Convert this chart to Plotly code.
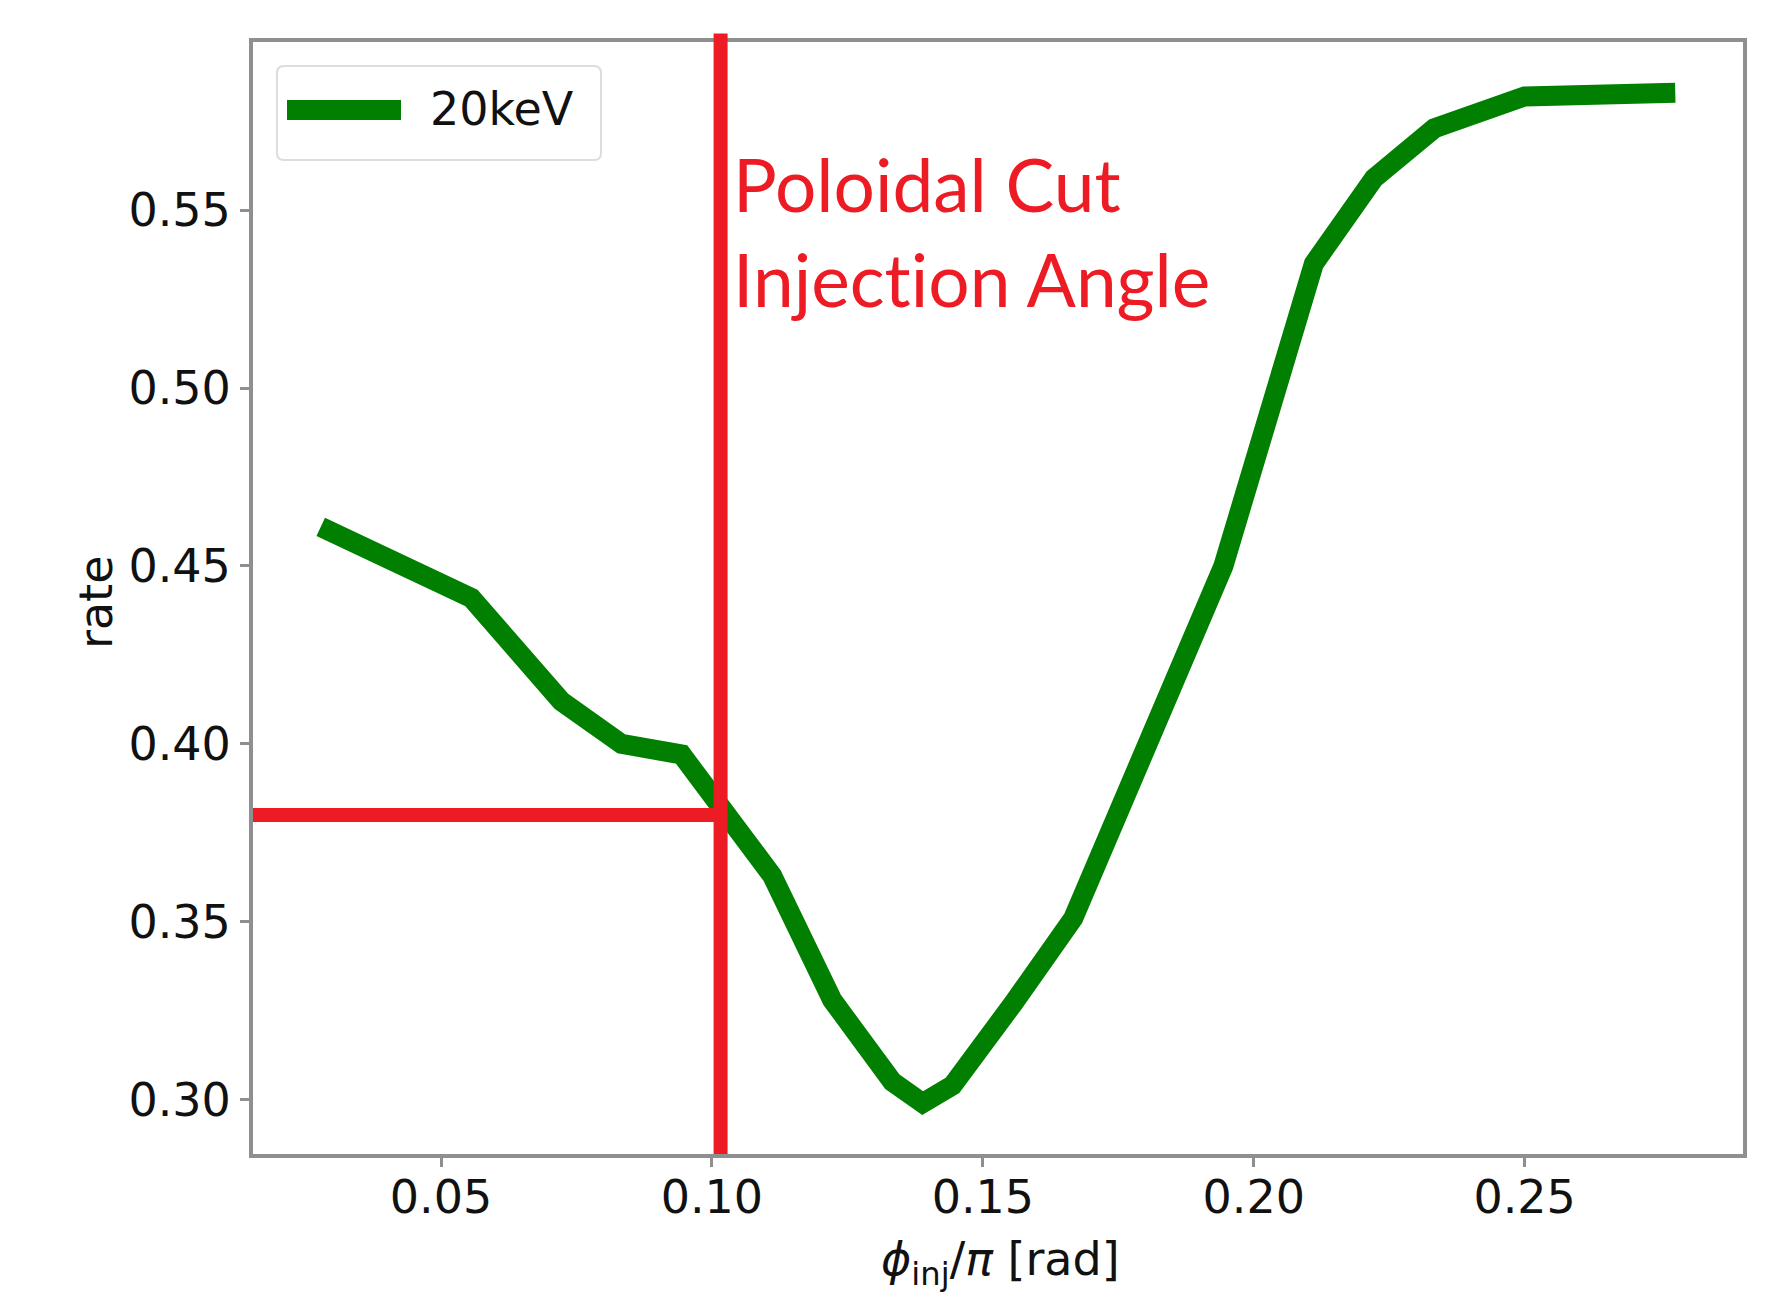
import plotly.graph_objects as go

# injection angle (phi_inj / pi) and escape rate for the 20 keV beam
phi_over_pi = [0.0278, 0.0556, 0.0722, 0.0833, 0.0944, 0.1111, 0.1222, 0.1333,
               0.1389, 0.1444, 0.1556, 0.1667, 0.1944, 0.2111, 0.2222,
               0.2333, 0.2500, 0.2778]
rate_20kev = [0.461, 0.441, 0.412, 0.400, 0.397, 0.363, 0.328, 0.305,
              0.299, 0.304, 0.327, 0.351, 0.450, 0.535, 0.559,
              0.573, 0.582, 0.583]

series_name = "20keV"
x_ticks = [0.05, 0.10, 0.15, 0.20, 0.25]
y_ticks = [0.30, 0.35, 0.40, 0.45, 0.50, 0.55]

# chosen cut: poloidal injection angle and the rate it gives
cut_phi = 0.1016
cut_rate = 0.38

W, H = 1777, 1300
L, R, T, B = 253, 34, 42, 146
pw, ph = W - L - R, H - T - B


def px_x(px):
    return (px - L) / pw


def px_y(py):
    return (H - B - py) / ph


GREEN = "#007f00"
RED = "#ED1C24"
SPINE = "#8f8f8f"
TICK_FONT = dict(family="DejaVu Sans", size=46, color="#111111")

fig = go.Figure()
fig.add_trace(go.Scatter(
    x=phi_over_pi, y=rate_20kev, mode="lines", name=series_name,
    line=dict(color=GREEN, width=20), showlegend=False,
))

axis_common = dict(
    showline=True, mirror=True, linecolor=SPINE, linewidth=4,
    showgrid=False, zeroline=False, ticks="outside", ticklen=9,
    tickwidth=2.5, tickcolor=SPINE, tickfont=TICK_FONT,
)
fig.update_xaxes(range=[0.0153, 0.2903], tickvals=x_ticks,
                 ticktext=[f"{v:.2f}" for v in x_ticks],
                 ticklabelstandoff=-9, **axis_common)
fig.update_yaxes(range=[0.2847, 0.5973], tickvals=y_ticks,
                 ticktext=[f"{v:.2f}" for v in y_ticks],
                 ticklabelstandoff=0, **axis_common)


def rounded_box(x0, y0, x1, y1, r):
    """SVG path (pixel corners converted to paper units) with rounded corners."""
    def p(px, py):
        return f"{px_x(px):.5f},{px_y(py):.5f}"
    return (f"M {p(x0 + r, y0)} L {p(x1 - r, y0)} Q {p(x1, y0)} {p(x1, y0 + r)} "
            f"L {p(x1, y1 - r)} Q {p(x1, y1)} {p(x1 - r, y1)} "
            f"L {p(x0 + r, y1)} Q {p(x0, y1)} {p(x0, y1 - r)} "
            f"L {p(x0, y0 + r)} Q {p(x0, y0)} {p(x0 + r, y0)} Z")


shapes = [
    # vertical marker at the chosen angle
    dict(type="line", xref="x", yref="paper", x0=cut_phi, x1=cut_phi,
         y0=0, y1=1.0076, line=dict(color=RED, width=14)),
    # horizontal marker at the resulting rate
    dict(type="line", xref="paper", yref="y", x0=0, x1=px_x(727),
         y0=cut_rate, y1=cut_rate, line=dict(color=RED, width=14)),
    # legend frame
    dict(type="path", xref="paper", yref="paper",
         path=rounded_box(277, 66, 601, 160, 7),
         line=dict(color="#dddddd", width=2), fillcolor="rgba(255,255,255,0.8)",
         layer="above"),
    # legend line sample
    dict(type="line", xref="paper", yref="paper",
         x0=px_x(287), x1=px_x(401), y0=px_y(110), y1=px_y(110),
         line=dict(color=GREEN, width=20)),
]

# a zero-width non-joiner keeps Lato from fusing "t" and "i" into a ligature
injection = "Injec" + "t\u200cion"

annotations = [
    dict(text=series_name, xref="paper", yref="paper", x=px_x(428), y=px_y(109),
         xanchor="left", yanchor="middle", showarrow=False, font=TICK_FONT),
    dict(text=f"Poloidal Cut<br>{injection} Angle", xref="paper", yref="paper",
         x=px_x(731), y=px_y(138), xanchor="left", yanchor="top", align="left",
         showarrow=False, font=dict(family="Lato", size=73, color=RED)),
    dict(text="rate", xref="paper", yref="paper", x=px_x(96), y=px_y(603),
         xanchor="center", yanchor="middle", textangle=-90, showarrow=False,
         font=dict(family="DejaVu Sans", size=46, color="#111111")),
    dict(text="<i>ϕ</i><sub>inj</sub>/<i>π</i> [rad]", xref="paper", yref="paper",
         x=px_x(1000), y=px_y(1262), xanchor="center", yanchor="middle",
         showarrow=False,
         font=dict(family="DejaVu Sans", size=46, color="#111111")),
]

fig.update_layout(
    width=W, height=H,
    margin=dict(l=L, r=R, t=T, b=B),
    paper_bgcolor="white", plot_bgcolor="white",
    shapes=shapes, annotations=annotations,
)

fig.write_html("out.html")
